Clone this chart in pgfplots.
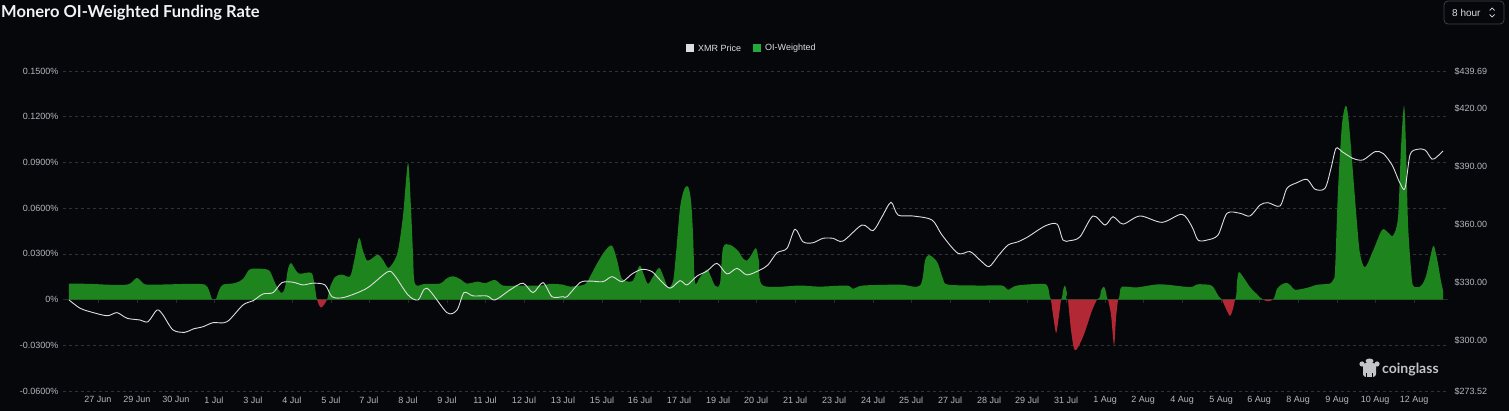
\documentclass[border=0pt]{standalone}
\usepackage{fontspec}
\usepackage{pgfplots}
\pgfplotsset{compat=1.18}
\setmainfont{Liberation Sans}
\newfontfamily\titlefont{Lato}
\newfontfamily\wmfont{Lato}
\definecolor{bgc}{RGB}{6,7,11}
\definecolor{greenf}{RGB}{30,132,30}
\definecolor{redf}{RGB}{178,40,52}
\definecolor{pricec}{RGB}{222,222,226}
\definecolor{tickc}{RGB}{180,183,190}
\definecolor{gridc}{RGB}{48,50,57}
\definecolor{zeroc}{RGB}{40,42,48}
\definecolor{leggreen}{RGB}{34,170,60}
\definecolor{legwhite}{RGB}{220,221,225}
\definecolor{titlec}{RGB}{242,242,244}
\definecolor{wmc}{RGB}{195,196,200}
\definecolor{btnc}{RGB}{62,64,72}
\begin{document}
\begin{tikzpicture}[x=1pt,y=1pt]
\useasboundingbox (0,0) rectangle (1509,411);
\fill[bgc] (0,0) rectangle (1509,411);
% title
\node[anchor=base west, inner sep=0, text=titlec, font=\titlefont\bfseries\fontsize{16.5}{19}\selectfont] at (1,393) {Monero OI-Weighted Funding Rate};
% button
\draw[btnc, rounded corners=4pt, line width=0.8pt] (1444,387) rectangle (1504,410);
\node[anchor=base west, inner sep=0, text=legwhite, font=\fontsize{10}{12}\selectfont] at (1452,394) {8 hour};
\draw[legwhite, line width=0.7pt] (1489.5,400.5) -- (1492,403) -- (1494.5,400.5);
\draw[legwhite, line width=0.7pt] (1489.5,396.5) -- (1492,394) -- (1494.5,396.5);
% legend
\fill[legwhite] (686,359) rectangle (694,367);
\node[anchor=west, inner sep=0, text=legwhite, font=\fontsize{9}{10}\selectfont] at (698,363) {XMR Price};
\fill[leggreen] (753,359) rectangle (761,367);
\node[anchor=west, inner sep=0, text=legwhite, font=\fontsize{9}{10}\selectfont] at (765,363) {OI-Weighted};
% watermark
\fill[wmc, rounded corners=3pt] (1363,34) rectangle (1376,48);
\fill[wmc] (1362,47) circle (2.6);
\fill[wmc] (1377,47) circle (2.6);
\fill[wmc] (1369.5,50) ellipse (4 and 2.5);
\fill[bgc] (1366,34) rectangle (1367.2,38);
\fill[bgc] (1372,34) rectangle (1373.2,38);
\node[anchor=west, inner sep=0, text=wmc, font=\wmfont\bfseries\fontsize{14}{16}\selectfont] at (1382,41) {coinglass};

\begin{axis}[
  at={(63pt,20pt)}, anchor=south west,
  scale only axis, width=1385pt, height=320pt,
  xmin=63, xmax=1448, ymin=-0.06, ymax=0.15,
  axis line style={draw=none},
  major tick length=0pt,
  ytick={-0.06,-0.03,0,0.03,0.06,0.09,0.12,0.15},
  yticklabels={{-0.0600\%},{-0.0300\%},{0\%},{0.0300\%},{0.0600\%},{0.0900\%},{0.1200\%},{0.1500\%}},
  xtick={98,137,176,214,253,292,331,369,408,447,485,524,563,602,640,679,718,756,795,834,873,911,950,989,1027,1066,1105,1143,1182,1221,1259,1298,1337,1375,1414},
  xticklabels={27 Jun,29 Jun,30 Jun,1 Jul,3 Jul,4 Jul,5 Jul,7 Jul,8 Jul,9 Jul,11 Jul,12 Jul,13 Jul,15 Jul,16 Jul,17 Jul,19 Jul,20 Jul,21 Jul,23 Jul,24 Jul,25 Jul,27 Jul,28 Jul,29 Jul,31 Jul,1 Aug,2 Aug,4 Aug,5 Aug,6 Aug,8 Aug,9 Aug,10 Aug,12 Aug},
  ticklabel style={font=\fontsize{9}{10}\selectfont, text=tickc},
  xticklabel style={yshift=-2pt},
  yticklabel style={xshift=-1pt},
  ymajorgrids, xmajorgrids=false,
  grid style={gridc, dash pattern=on 3pt off 3pt, line width=0.6pt},
  /pgf/number format/assume math mode=true,
]
\draw[zeroc, line width=0.8pt] (axis cs:63,0) -- (axis cs:1448,0);
\pgfplotsinvokeforeach{98,137,176,214,253,292,331,369,408,447,485,524,563,602,640,679,718,756,795,834,873,911,950,989,1027,1066,1105,1143,1182,1221,1259,1298,1337,1375,1414}{
  \draw[zeroc, line width=0.8pt] (axis cs:#1,0) -- ([yshift=-3pt]axis cs:#1,0);
}
\addplot[draw=none, fill=greenf, smooth, tension=0.5] coordinates {
(69,0.0105) (90,0.0103) (110,0.0097) (127,0.0098) (132,0.0115) (137,0.0142) (142,0.0115) (147,0.0098)
(170,0.0100) (190,0.0103) (205,0.0098) (209,0.0060) (212,0.0005) (216,0.0005) (219,0.0060) (223,0.0098)
(235,0.0108) (243,0.0135) (249,0.0195) (255,0.0203) (265,0.0200) (270,0.0185) (275,0.0110) (279,0.0060)
(282,0.0043) (285,0.0080) (288,0.0200) (291,0.0240) (295,0.0200) (299,0.0170) (306,0.0175) (312,0.0172)
(315,0.0080) (317,0) (322,0) (327,0) (330,0.0080) (335,0.0148) (342,0.0164) (350,0.0152) (354,0.0250)
(359,0.0404) (363,0.0320) (367,0.0256) (372,0.0270) (378,0.0295) (383,0.0260) (388,0.0208) (393,0.0240)
(398,0.0320) (403,0.0550) (408,0.0896) (411,0.0600) (413,0.0300) (415,0.0103) (425,0.0103) (440,0.0105)
(447,0.0140) (453,0.0153) (460,0.0135) (467,0.0105) (478,0.0118) (485,0.0107) (495,0.0129) (503,0.0092)
(520,0.0092) (543,0.0093) (550,0.0103) (563,0.0098) (570,0.0085) (585,0.0100) (590,0.0150) (597,0.0236)
(605,0.0320) (612,0.0354) (617,0.0260) (622,0.0136) (632,0.0120) (636,0.0170) (640,0.0223) (644,0.0160)
(648,0.0103) (653,0.0150) (659,0.0208) (663,0.0160) (668,0.0081) (673,0.0120) (676,0.0300) (680,0.0600)
(684,0.0720) (688,0.0742) (691,0.0650) (693,0.0433) (695,0.0114) (700,0.0147) (707,0.0197) (711,0.0150)
(715,0.0092) (720,0.0105) (723,0.0340) (730,0.0359) (738,0.0320) (743,0.0270) (747,0.0256) (751,0.0290)
(756,0.0337) (759,0.0250) (763,0.0092) (800,0.0092) (820,0.0085) (847,0.0092) (853,0.0070) (863,0.0092)
(900,0.0098) (920,0.0092) (925,0.0256) (929,0.0293) (934,0.0270) (938,0.0236) (943,0.0136) (948,0.0098)
(980,0.0092) (1002,0.0092) (1008,0.0064) (1017,0.0092) (1043,0.0103) (1048,0.0080) (1051,0) (1061,0)
(1063,0.0060) (1065,0.0092) (1067,0.0040) (1068,0) (1097,0) (1101,0.0060) (1104,0.0085) (1106,0.0050)
(1108,0) (1118,0) (1120,0.0050) (1122,0.0085) (1137,0.0080) (1160,0.0100) (1190,0.0082) (1197,0.0100)
(1210,0.0096) (1214,0.0075) (1217,0.0040) (1222,0) (1235,0) (1237,0.0120) (1239,0.0180) (1244,0.0140)
(1250,0.0082) (1257,0.0035) (1263,0) (1273,0) (1277,0.0070) (1282,0.0100) (1287,0.0109) (1291,0.0090)
(1295,0.0064) (1307,0.0077) (1317,0.0097) (1330,0.0105) (1333,0.0130) (1335,0.0190) (1338,0.0717)
(1342,0.1150) (1346,0.1273) (1349,0.1150) (1353,0.0830) (1357,0.0500) (1360,0.0300) (1365,0.0212)
(1373,0.0320) (1382,0.0457) (1388,0.0440) (1393,0.0420) (1398,0.0540) (1401,0.1000) (1404,0.1273)
(1406,0.1000) (1408,0.0500) (1411,0.0200) (1413,0.0092) (1420,0.0085) (1424,0.0120) (1427,0.0180)
(1433,0.0350) (1436,0.0300) (1438,0.0234) (1441,0.0120) (1443,0.0060)
} \closedcycle;
\addplot[draw=none, fill=redf, smooth, tension=0.5] coordinates {(317,0) (319,-0.0035) (321,-0.0052) (324,-0.0035) (327,0)} \closedcycle;
\addplot[draw=none, fill=redf, smooth, tension=0.5] coordinates {(1051,0) (1053,-0.010) (1056,-0.0219) (1058,-0.015) (1061,0)} \closedcycle;
\addplot[draw=none, fill=redf, smooth, tension=0.5] coordinates {(1068,0) (1071,-0.020) (1075,-0.0333) (1083,-0.0245) (1092,-0.0072) (1097,0)} \closedcycle;
\addplot[draw=none, fill=redf, smooth, tension=0.5] coordinates {(1108,0) (1111,-0.010) (1114,-0.030) (1116,-0.012) (1118,0)} \closedcycle;
\addplot[draw=none, fill=redf, smooth, tension=0.5] coordinates {(1222,0) (1226,-0.006) (1230,-0.0107) (1233,-0.006) (1235,0)} \closedcycle;
\addplot[draw=none, fill=redf, smooth, tension=0.5] coordinates {(1263,0) (1268,-0.0012) (1273,0)} \closedcycle;
\end{axis}

\begin{axis}[
  at={(63pt,20pt)}, anchor=south west,
  scale only axis, width=1385pt, height=320pt,
  xmin=63, xmax=1448, ymin=273.52, ymax=439.69,
  axis y line*=right, axis x line=none,
  axis line style={draw=none},
  major tick length=0pt,
  ytick={273.52,300,330,360,390,420,439.69},
  yticklabels={{\$273.52},{\$300.00},{\$330.00},{\$360.00},{\$390.00},{\$420.00},{\$439.69}},
  ticklabel style={font=\fontsize{9}{10}\selectfont, text=tickc},
  yticklabel style={xshift=3pt},
]
\addplot[pricec, line width=0.9pt, smooth, tension=0.5] coordinates {
(69,320.8) (80,316.5) (90,314.7) (107,312.6) (117,314.2) (127,311.3) (140,310.4) (148,309.5) (157,315.6)
(163,313) (173,305.2) (185,304) (193,305.7) (203,306.9) (213,309) (227,309.5) (243,318.2) (253,320.4)
(263,323.9) (273,324.6) (282,329.8) (293,330) (303,328.6) (313,329.5) (325,328.6) (332,322.5) (343,322)
(360,325.1) (370,328) (388,335.5) (395,333.2) (408,323.4) (418,320.8) (427,326.9) (447,314.2) (457,315.6)
(464,324.6) (473,322.9) (487,322.9) (495,320.8) (510,326) (523,329.5) (533,324.6) (543,329.8) (552,322.5)
(563,322.5) (567,322.5) (580,329.8) (590,330.6) (603,330.3) (612,332.9) (622,330.3) (632,334.3) (642,336.7)
(652,335.5) (660,331.2) (670,326.9) (680,330.8) (687,328.6) (697,333.2) (707,335.8) (717,339.8) (727,334.3)
(737,337.2) (747,333.8) (760,336.4) (768,339) (777,345.3) (787,347.6) (795,357.5) (803,351) (813,350.5)
(823,352.8) (833,352.8) (843,351.4) (862,359.7) (873,356.8) (882,364) (891,371.5) (898,364.9) (913,364.4)
(932,362.3) (942,354.5) (958,345) (970,345.9) (980,341.5) (989,338.1) (998,343.6) (1008,349.3) (1018,351)
(1028,353.6) (1045,359.2) (1057,360.2) (1063,351.9) (1070,351.6) (1080,353.6) (1093,364.4) (1105,359.7)
(1113,364) (1123,360.2) (1140,364.4) (1162,361.1) (1182,365.3) (1192,358.8) (1198,351.9) (1207,351.9)
(1218,354.5) (1227,365.8) (1240,365.8) (1250,364.4) (1260,370.1) (1268,371.3) (1280,369.6) (1287,378.8)
(1297,381.7) (1307,383.4) (1315,378.3) (1325,378.8) (1331,389.2) (1336,399.5) (1342,397.8) (1353,394.3)
(1363,393.5) (1375,397.8) (1383,396.9) (1392,390.9) (1400,381.4) (1405,378.8) (1410,396.1) (1417,399)
(1425,398.7) (1432,393.9) (1437,395.2) (1443,398.2)
};
\end{axis}
\end{tikzpicture}
\end{document}
